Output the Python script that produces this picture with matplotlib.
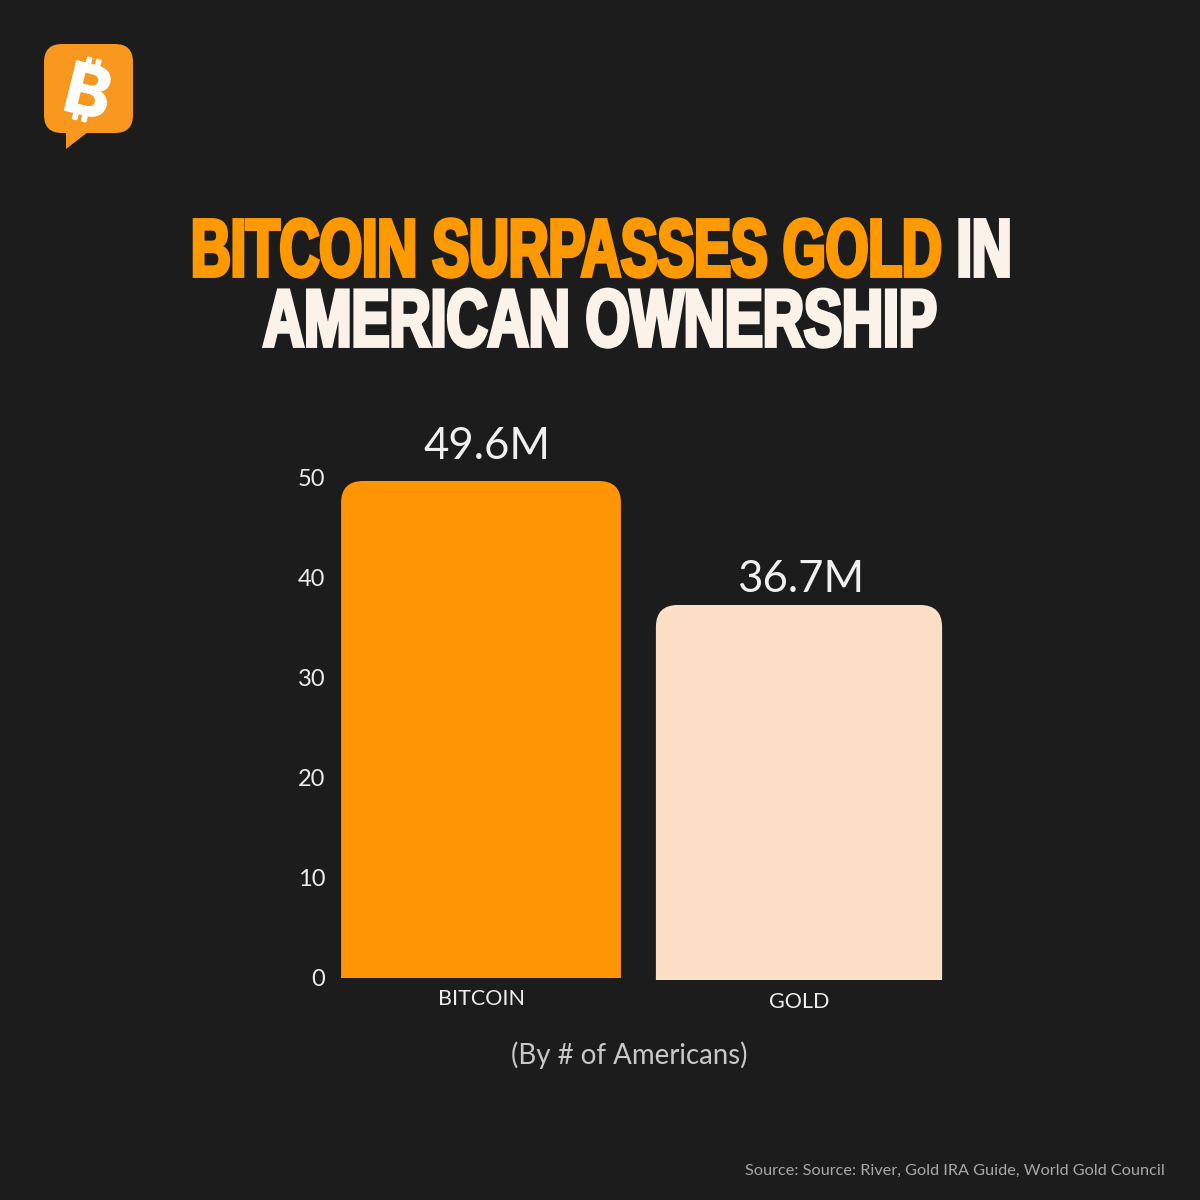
#!/usr/bin/env python3
"""Bitcoin vs gold ownership among Americans, dark social card."""

import matplotlib; matplotlib.use("Agg")
import matplotlib.pyplot as plt
import matplotlib.patheffects as pe
from matplotlib.patches import FancyBboxPatch, PathPatch, Polygon
from matplotlib.path import Path
from matplotlib.transforms import Affine2D

categories = ["BITCOIN", "GOLD"]
# heights as drawn in the picture (gold is drawn a bit taller than its label)
bar_heights = [49.7, 37.5]
bar_bottoms = [0.0, -0.2]
value_labels = ["49.6M", "36.7M"]
y_ticks = [0, 10, 20, 30, 40, 50]

BG = "#1C1C1C"
ORANGE = "#FF9505"
PEACH = "#FDDFC6"
CREAM = "#FBF3EA"
TEXT = "#F0F0F0"
BODY_FONT = ["Lato", "DejaVu Sans"]
TITLE_FONT = ["Liberation Sans", "DejaVu Sans"]

W, H = 1200, 1200


class TallHeavy(pe.AbstractPathEffect):
    """Stretch glyphs upward from the baseline and fatten them, for a condensed heavy look."""

    def __init__(self, baseline, stretch, weight, color):
        super().__init__()
        self.baseline, self.stretch, self.weight, self.color = baseline, stretch, weight, color

    def draw_path(self, renderer, gc, tpath, affine, rgbFace=None):
        tall = affine + Affine2D().translate(0, -self.baseline).scale(1, self.stretch).translate(0, self.baseline)
        gc0 = renderer.new_gc()
        gc0.copy_properties(gc)
        gc0.set_linewidth(self.weight)
        gc0.set_foreground(self.color)
        gc0.set_joinstyle("miter")
        renderer.draw_path(gc0, tpath, tall, rgbFace)
        gc0.restore()


def rounded_top_bar(ax, x, width, bottom, height, radius_px, color):
    """Bar with only the two top corners rounded, radius given in pixels."""
    bbox = ax.get_position()
    x0, x1 = ax.get_xlim()
    y0, y1 = ax.get_ylim()
    rx = radius_px * (x1 - x0) / (bbox.width * W)
    ry = radius_px * (y1 - y0) / (bbox.height * H)
    l, r, b, t = x - width / 2, x + width / 2, bottom, bottom + height
    verts = [(l, b), (l, t - ry), (l, t), (l + rx, t), (r - rx, t), (r, t),
             (r, t - ry), (r, b), (l, b)]
    codes = [Path.MOVETO, Path.LINETO, Path.CURVE3, Path.CURVE3, Path.LINETO,
             Path.CURVE3, Path.CURVE3, Path.LINETO, Path.CLOSEPOLY]
    ax.add_patch(PathPatch(Path(verts, codes), facecolor=color, edgecolor="none"))


fig = plt.figure(figsize=(W / 100, H / 100), dpi=100, facecolor=BG)

# Overlay in pixel coordinates for logo and headings
bg = fig.add_axes([0, 0, 1, 1])
bg.set_xlim(0, W); bg.set_ylim(H, 0); bg.axis("off")

# Logo
bg.add_patch(FancyBboxPatch((62, 62), 53, 53, boxstyle="round,pad=18,rounding_size=18",
                            facecolor="#F9981F", edgecolor="none"))
bg.add_patch(Polygon([(66, 130), (66, 149), (88, 132)], facecolor="#F9981F", edgecolor="none"))
bg.text(87, 96.5, "\u20bf", color="white", fontsize=50, fontweight="bold",
        family=["Inter", "Noto Sans", "Roboto", "Open Sans", "DejaVu Sans"],
        rotation=-14, ha="center", va="center",
        path_effects=[pe.withStroke(linewidth=1.2, foreground="white")])

# Title, pieces placed one after another
renderer = fig.canvas.get_renderer()


def title_line(pieces, x_left, baseline, size, stretch, weight=2.8):
    x = x_left
    y_disp = H - baseline
    for txt, col in pieces:
        t = bg.text(x, baseline, txt, color=col, fontsize=size, fontweight="bold",
                    family=TITLE_FONT, ha="left", va="baseline")
        x = t.get_window_extent(renderer).x1
        t.set_path_effects([TallHeavy(y_disp, stretch, weight, col)])
    return x


title_line([("BITCOIN SURPASSES GOLD ", "#FF9900"), ("IN", CREAM)], 191, 276, 39.6, 1.48)
title_line([("AMERICAN OWNERSHIP", CREAM)], 263, 346, 41.0, 1.42)

# Chart axes: y 0 sits at pixel 978, y 50 at pixel 478; x 0 at 481, x 1 at 799
left_px, right_px = 332, 960
top_px, bottom_px = 420, 985
ax = fig.add_axes([left_px / W, 1 - bottom_px / H, (right_px - left_px) / W, (bottom_px - top_px) / H])
ax.set_facecolor("none")
unit = 318.0
ax.set_xlim((left_px - 481) / unit, (right_px - 481) / unit)
ax.set_ylim((978 - bottom_px) / 10.0, (978 - top_px) / 10.0)
for s in ax.spines.values():
    s.set_visible(False)

bar_widths = [0.88, 0.90]
bar_colors = [ORANGE, PEACH]
xs = list(range(len(categories)))
for x, w, b, h, c in zip(xs, bar_widths, bar_bottoms, bar_heights, bar_colors):
    rounded_top_bar(ax, x, w, b, h, 22, c)

label_gaps = [10, 3.5]
label_shift = [4.5, 1]
for x, b, h, lab, gap, dx in zip(xs, bar_bottoms, bar_heights, value_labels, label_gaps, label_shift):
    ax.annotate(lab, xy=(x, b + h), xytext=(dx, gap), textcoords="offset points", ha="center", va="bottom",
                color=TEXT, fontsize=31.5, family=BODY_FONT, annotation_clip=False)

ax.set_yticks(y_ticks)
ax.set_xticks(xs, categories)
ax.tick_params(axis="y", length=0, pad=5, labelsize=17, labelcolor="#EDEDED")
ax.tick_params(axis="x", length=0, pad=3, labelsize=15.5, labelcolor="#EDEDED")
for lbl in ax.get_yticklabels() + ax.get_xticklabels():
    lbl.set_family(BODY_FONT)
ax.xaxis.get_major_ticks()[1].set_pad(5)

bg.text(629, 1055, "(By # of Americans)", color="#C8C8C8", fontsize=19.9, family=BODY_FONT,
        ha="center", va="center")
bg.text(1165, 1171, "Source: Source: River, Gold IRA Guide, World Gold Council", color="#A8A8A8",
        fontsize=11.7, family=BODY_FONT, ha="right", va="center")

fig.savefig("out.png", dpi=100, facecolor=BG)
plt.close(fig)
